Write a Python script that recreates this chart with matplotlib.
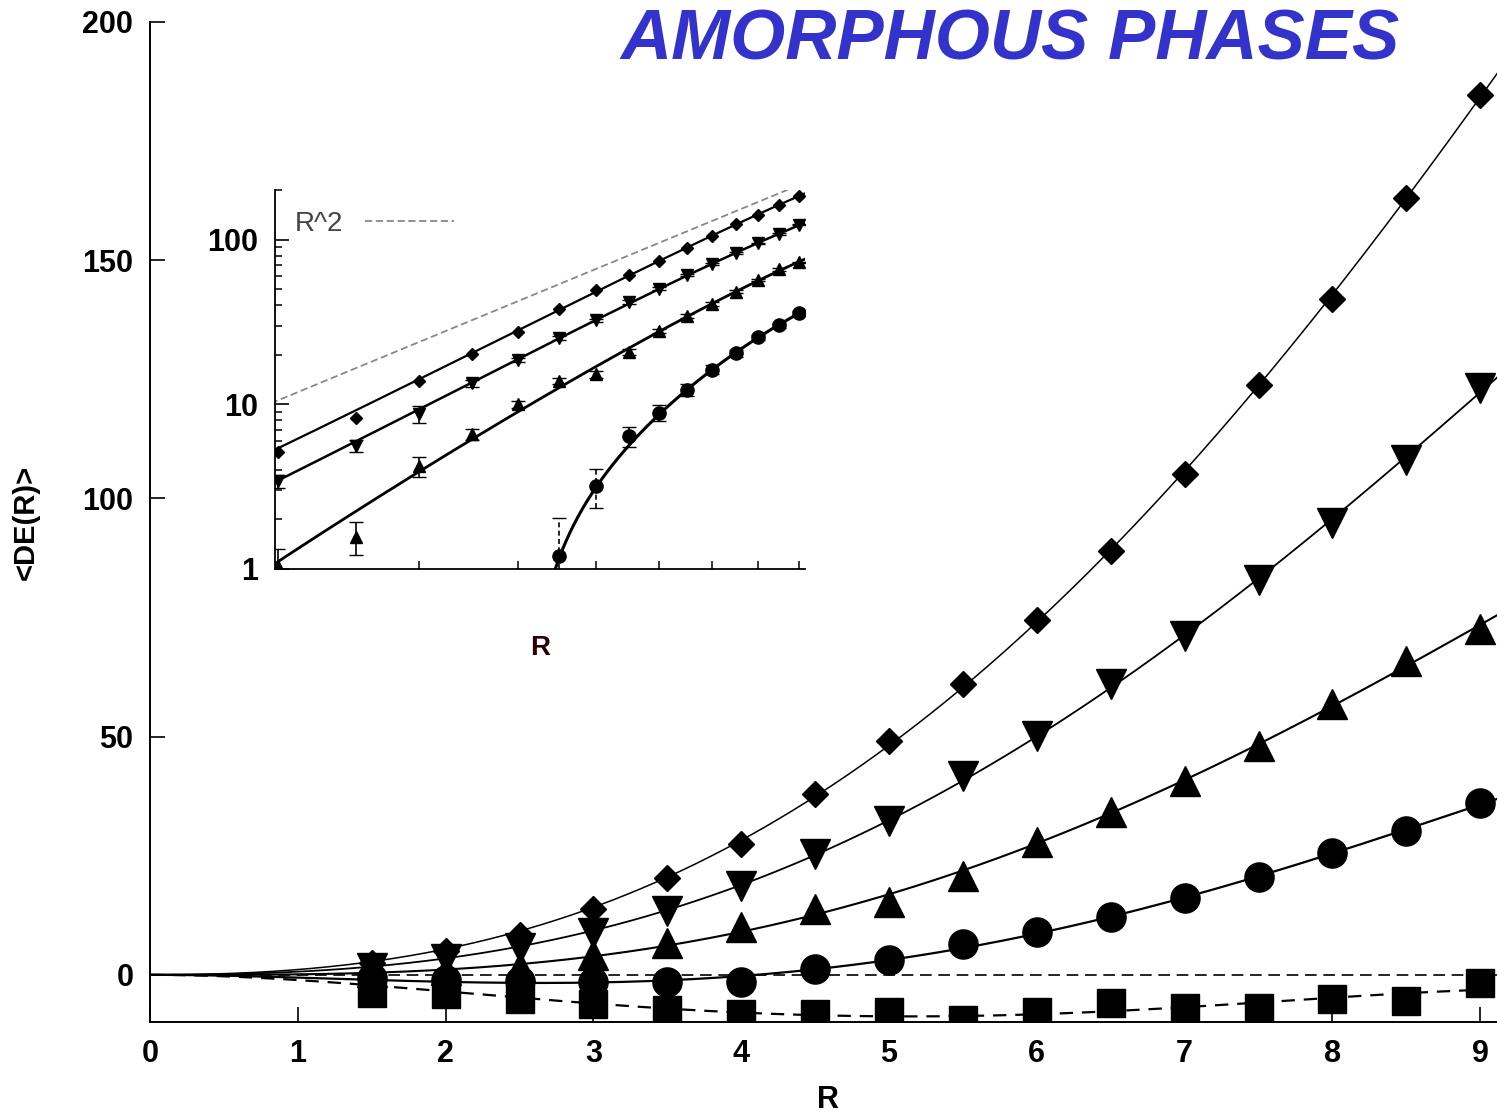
import matplotlib.pyplot as plt
import numpy as np

plt.rcParams['font.family'] = ['Liberation Sans', 'DejaVu Sans']

# R values of the measured points
r_values = np.array([1.5, 2.0, 2.5, 3.0, 3.5, 4.0, 4.5, 5.0, 5.5, 6.0, 6.5, 7.0, 7.5, 8.0, 8.5, 9.0])

# <DE(R)> for the five data sets
diamonds = np.array([2.5, 5.1, 8.3, 13.9, 20.3, 27.5, 38.0, 49.1, 61.1, 74.5, 89.0, 105.1, 123.8, 141.9, 163.1, 184.7])
down_tri = np.array([1.5, 3.4, 5.6, 8.7, 13.4, 18.6, 25.3, 32.3, 41.8, 50.2, 61.1, 71.1, 82.9, 94.9, 108.1, 123.2])
up_tri = np.array([0.5, 1.05, 1.57, 4.2, 6.6, 10.0, 13.8, 15.2, 20.8, 27.9, 34.2, 40.7, 48.1, 56.9, 65.9, 72.6])
circles = np.array([-0.6, -1.0, -1.3, -1.5, -1.6, -1.5, 1.2, 3.2, 6.4, 8.9, 12.2, 16.2, 20.5, 25.5, 30.2, 36.0])
squares = np.array([-3.8, -4.0, -5.1, -6.1, -7.3, -8.2, -8.2, -7.8, -9.4, -7.8, -5.9, -6.9, -6.9, -5.0, -5.5, -1.7])

# error bars shown in the inset
down_err = np.array([0.2, 0.3, 0.5, 1.0, 0.6, 0.6, 0.8, 0.8, 0.9, 1.0, 1.0, 1.0, 1.0, 1.0, 1.0, 1.0])
up_err = np.array([0.2, 0.27, 0.36, 0.6, 0.5, 0.5, 0.6, 0.8, 0.8, 0.9, 1.0, 1.0, 1.0, 1.0, 1.0, 1.0])
circ_err = np.array([0.0, 0.0, 0.0, 0.0, 0.0, 0.0, 0.85, 0.87, 0.9, 0.95, 1.0, 1.0, 1.0, 1.0, 1.0, 1.0])

r2_coef = 2.65  # prefactor of the R^2 guide line in the inset

main_yticks = [0, 50, 100, 150, 200]
main_xticks = [0, 1, 2, 3, 4, 5, 6, 7, 8, 9]
inset_yticks = [1, 10, 100]
inset_ytick_labels = ['1', '10', '100']


def fit(r, y):
    # least squares fit y = a R^2 + b R^3 + c R^4
    A = np.vstack([r**2, r**3, r**4]).T
    coef, *_ = np.linalg.lstsq(A, y, rcond=None)
    return coef


def curve(coef, rr):
    return coef[0] * rr**2 + coef[1] * rr**3 + coef[2] * rr**4


rr = np.linspace(0, 9.3, 600)
c_dia = fit(r_values, diamonds)
c_down = fit(r_values, down_tri)
c_up = fit(r_values, up_tri)
c_circ = fit(r_values, circles)
c_sq = fit(r_values, squares)

W, H = 1497, 1117
fig = plt.figure(figsize=(W / 100, H / 100), dpi=100)

# ---------------- main axes ----------------
ax = fig.add_axes([150 / W, 1 - 1022 / H, 1 - 150 / W, 1000 / H])
ax.axhline(0, color='black', lw=1.2, ls=(0, (7, 4)), zorder=1)
ax.plot(rr, curve(c_dia, rr), color='black', lw=1.1, zorder=2)
ax.plot(rr, curve(c_down, rr), color='black', lw=1.3, zorder=2)
ax.plot(rr, curve(c_up, rr), color='black', lw=1.5, zorder=2)
ax.plot(rr, curve(c_circ, rr), color='black', lw=1.6, zorder=2)
ax.plot(rr, curve(c_sq, rr), color='black', lw=1.6, ls=(0, (6, 4)), zorder=2)

ax.plot(r_values, squares, 's', color='black', ms=20, zorder=3)
ax.plot(r_values, circles, 'o', color='black', ms=21, zorder=3)
ax.plot(r_values, up_tri, '^', color='black', ms=21, zorder=3)
ax.plot(r_values, down_tri, 'v', color='black', ms=21, zorder=3)
ax.plot(r_values, diamonds, 'D', color='black', ms=13, zorder=3)

ax.set_xlim(0, (W - 150) / 147.8)
ax.set_ylim(-9.9, 200)
ax.set_xticks(main_xticks)
ax.set_yticks(main_yticks)
ax.spines['top'].set_visible(False)
ax.spines['right'].set_visible(False)
for s in ['left', 'bottom']:
    ax.spines[s].set_linewidth(1.4)
ax.tick_params(direction='in', length=11, width=1.2, labelsize=22, pad=12)
for lab in ax.get_xticklabels() + ax.get_yticklabels():
    lab.set_fontweight('bold')

fig.text(828 / W, 1 - 1100 / H, 'R', ha='center', va='center', fontsize=22, fontweight='bold')
fig.text(26 / W, 1 - 522 / H, '<DE(R)>', ha='center', va='center', rotation=90,
         fontsize=21, fontweight='bold')
fig.text(1010 / W, 1 - 60 / H, 'AMORPHOUS PHASES', ha='center', va='baseline',
         fontsize=51, fontweight='bold', fontstyle='italic', color='#3333cc')

# ---------------- inset ----------------
ins = fig.add_axes([275 / W, 1 - 569 / H, 530 / W, 379 / H])
ins.set_xscale('log')
ins.set_yscale('log')
ins.set_xlim(1.98, 9.15)
ins.set_ylim(1, 200)

ri = np.linspace(1.9, 9.3, 400)
ins.plot(ri, r2_coef * ri**2, color='#888888', lw=1.3, ls=(0, (4, 2)), label='R^2')
for coef, lw in [(c_dia, 1.6), (c_down, 1.8), (c_up, 2.0), (c_circ, 2.2)]:
    yy = curve(coef, ri)
    yy = np.where(yy > 0, yy, np.nan)
    ins.plot(ri, yy, color='black', lw=lw)

ins.plot(r_values, diamonds, 'D', color='black', ms=6.5)
ins.errorbar(r_values, down_tri, yerr=down_err, fmt='v', color='black', ms=9,
             capsize=5, elinewidth=1.2)
ins.errorbar(r_values, up_tri, yerr=up_err, fmt='^', color='black', ms=9,
             capsize=5, elinewidth=1.2)
pos = circles > 0
eb = ins.errorbar(r_values[pos], circles[pos], yerr=circ_err[pos], fmt='o', color='black',
                  ms=9.5, capsize=5, elinewidth=1.2)
eb[2][0].set_linestyle((0, (3, 2)))

ins.spines['top'].set_visible(False)
ins.spines['right'].set_visible(False)
ins.spines['left'].set_linewidth(1.3)
ins.spines['bottom'].set_linewidth(1.3)
ins.set_yticks(inset_yticks)
ins.set_yticklabels(inset_ytick_labels)
ins.set_xticks([2, 3, 4, 5, 6, 7, 8, 9])
ins.set_xticklabels([])
ins.xaxis.set_minor_locator(plt.NullLocator())
ins.tick_params(axis='y', which='major', direction='in', length=10, width=1.2,
                labelsize=22, pad=12)
ins.tick_params(axis='y', which='minor', direction='in', length=5, width=1.1)
ins.tick_params(axis='x', which='major', direction='in', length=6, width=1.1)
for lab in ins.get_yticklabels():
    lab.set_fontweight('bold')

leg = ins.legend(loc='upper left', frameon=False, markerfirst=False, fontsize=20,
                 handlelength=3.2, bbox_to_anchor=(0.0, 0.996), borderaxespad=0.3)
for t in leg.get_texts():
    t.set_color('#444444')

fig.text(540 / W, 1 - 648 / H, 'R', ha='center', va='center', fontsize=20,
         fontweight='bold', color='#2a0000')

fig.savefig('out.png', dpi=100)
